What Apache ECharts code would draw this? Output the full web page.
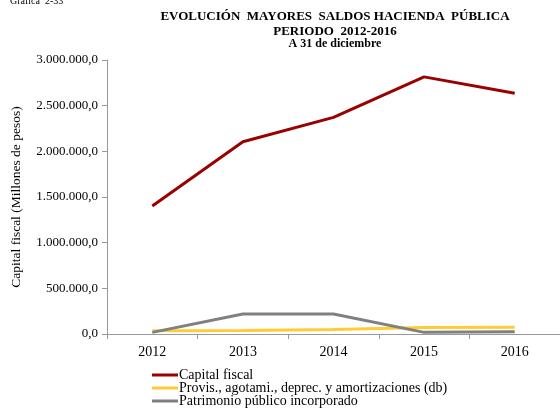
<!DOCTYPE html>
<html><head><meta charset="utf-8">
<script src="https://cdn.jsdelivr.net/npm/echarts@6/dist/echarts.min.js"></script>
<style>html,body{margin:0;padding:0;background:#fff}#c{width:560px;height:410px}</style>
</head><body><div id="c"></div>
<script>
const years = ['2012','2013','2014','2015','2016'];
const capitalFiscal = [1401000, 2105000, 2372000, 2815000, 2635000];
const provisiones = [36000, 38000, 50000, 72000, 73000];
const patrimonio = [18000, 219000, 219000, 18000, 25000];
const seriesNames = ['Capital fiscal','Provis., agotami., deprec. y amortizaciones (db)','Patrimonio público incorporado'];
const colors = ['#990000','#FFCC33','#808080'];
const F = 'Liberation Serif, Times New Roman, serif';
function fmt(v){
  const s = Math.round(v).toString().replace(/\B(?=(\d{3})+(?!\d))/g,'.');
  return s + ',0';
}
function leg(i, top){
  return {orient:'horizontal',left:152,top:top,itemWidth:26,itemHeight:3,itemGap:0,padding:0,
    icon:'rect',textStyle:{fontFamily:F,fontSize:14,color:'#000',padding:[0,0,0,-4]},data:[seriesNames[i]]};
}
const chart = echarts.init(document.getElementById('c'));
chart.setOption({
  animation:false,
  textStyle:{fontFamily:F},
  graphic:[
    {type:'text',left:10,top:-4,style:{text:'Gráfica  2-33',font:'10px '+F,fill:'#000'}},
    {type:'text',x:335,y:10,style:{text:'EVOLUCIÓN  MAYORES  SALDOS HACIENDA  PÚBLICA',textAlign:'center',font:'bold 13px '+F,fill:'#000'}},
    {type:'text',x:335,y:25,style:{text:'PERIODO  2012-2016',textAlign:'center',font:'bold 13px '+F,fill:'#000'}},
    {type:'text',x:335,y:38,style:{text:'A 31 de diciembre',textAlign:'center',font:'bold 12px '+F,fill:'#000'}}
  ],
  grid:{left:107,top:60,width:467,height:274,containLabel:false},
  legend:[leg(0,368),leg(1,381),leg(2,394)],
  xAxis:{
    type:'category',data:years,boundaryGap:true,
    axisLine:{lineStyle:{color:'#999'}},
    axisTick:{show:true,length:5,lineStyle:{color:'#999'}},
    axisLabel:{color:'#000',fontFamily:F,fontSize:14,margin:11}
  },
  yAxis:{
    type:'value',min:0,max:3000000,interval:500000,
    name:'Capital fiscal (Millones de pesos)',nameLocation:'middle',nameGap:84,nameRotate:90,
    nameTextStyle:{color:'#000',fontFamily:F,fontSize:13.5},
    axisLine:{show:true,lineStyle:{color:'#999'}},
    axisTick:{show:true,length:5,lineStyle:{color:'#999'}},
    splitLine:{show:false},
    axisLabel:{color:'#000',fontFamily:F,fontSize:13,margin:9,formatter:fmt}
  },
  series:[
    {name:seriesNames[0],type:'line',data:capitalFiscal,symbol:'none',lineStyle:{width:3,color:colors[0]},itemStyle:{color:colors[0]},z:3},
    {name:seriesNames[1],type:'line',data:provisiones,symbol:'none',lineStyle:{width:3,color:colors[1]},itemStyle:{color:colors[1]},z:2},
    {name:seriesNames[2],type:'line',data:patrimonio,symbol:'none',lineStyle:{width:3,color:colors[2]},itemStyle:{color:colors[2]},z:4}
  ]
});
</script></body></html>
